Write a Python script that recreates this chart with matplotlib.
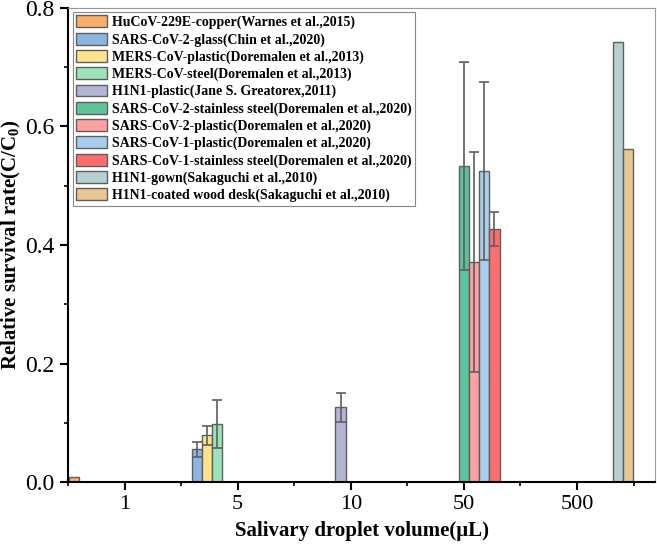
import matplotlib
matplotlib.use('Agg')
import matplotlib.pyplot as plt
from matplotlib.ticker import MultipleLocator, FormatStrFormatter

# fonte parecida com Times (Origin)
plt.rcParams['font.family'] = ['Liberation Serif', 'DejaVu Serif']
plt.rcParams['mathtext.fontset'] = 'custom'
plt.rcParams['mathtext.rm'] = 'Liberation Serif'
plt.rcParams['mathtext.bf'] = 'Liberation Serif:bold'

# dados
volumes = ['1', '5', '10', '50', '500']
series = [
    'HuCoV-229E-copper(Warnes et al.,2015)',
    'SARS-CoV-2-glass(Chin et al.,2020)',
    'MERS-CoV-plastic(Doremalen et al.,2013)',
    'MERS-CoV-steel(Doremalen et al.,2013)',
    'H1N1-plastic(Jane S. Greatorex,2011)',
    'SARS-CoV-2-stainless steel(Doremalen et al.,2020)',
    'SARS-CoV-2-plastic(Doremalen et al.,2020)',
    'SARS-CoV-1-plastic(Doremalen et al.,2020)',
    'SARS-CoV-1-stainless steel(Doremalen et al.,2020)',
    'H1N1-gown(Sakaguchi et al.,2010)',
    'H1N1-coated wood desk(Sakaguchi et al.,2010)',
]
series_volume = ['1', '5', '5', '5', '10', '50', '50', '50', '50', '500', '500']
survival = [0.008, 0.055, 0.079, 0.098, 0.126, 0.533, 0.371, 0.525, 0.427, 0.743, 0.562]
survival_err = [0, 0.012, 0.016, 0.041, 0.025, 0.176, 0.186, 0.150, 0.028, 0, 0]
colors = ['#FBAE68', '#8DB4E2', '#FFE38A', '#9BE3B9', '#B4B4D4', '#5DC39A',
          '#FFA0A2', '#A9CDEA', '#FF6D70', '#B5D0CE', '#E8C593']

bar_w = 0.09
n = len(series)

fig = plt.figure(figsize=(6.57, 5.47), dpi=100)
ax = fig.add_axes([0.1035, 0.1188, 0.8935, 0.8666])

for i, name in enumerate(series):
    # cada serie ocupa uma posicao fixa dentro do grupo (como no Origin)
    x = volumes.index(series_volume[i]) + 1 + (i - (n - 1) / 2) * bar_w
    ax.bar(x, survival[i], width=bar_w, color=colors[i], edgecolor='#5e5e5e',
           linewidth=1, label=name, zorder=2)
    if survival_err[i] > 0:
        ax.errorbar(x, survival[i], yerr=survival_err[i], fmt='none', ecolor='#5e5e5e',
                    elinewidth=1.2, capsize=3.6, capthick=1.2, zorder=3)

ax.set_xlim(0.5, 5.69)
ax.set_ylim(0, 0.8)
ax.set_xticks(range(1, len(volumes) + 1))
ax.set_xticklabels(volumes)
ax.xaxis.set_minor_locator(MultipleLocator(0.5))
ax.yaxis.set_major_locator(MultipleLocator(0.2))
ax.yaxis.set_minor_locator(MultipleLocator(0.1))
ax.yaxis.set_major_formatter(FormatStrFormatter('%.1f'))

for s in ['left', 'bottom']:
    ax.spines[s].set_linewidth(1.5)
    ax.spines[s].set_color('black')
for s in ['top', 'right']:
    ax.spines[s].set_linewidth(0.8)
    ax.spines[s].set_color('#999999')

ax.tick_params(which='major', direction='out', length=6, width=1.5, labelsize=16)
ax.tick_params(axis='y', which='major', labelsize=17, pad=4)
ax.tick_params(which='minor', direction='out', length=3, width=1.2)

ax.set_xlabel('Salivary droplet volume(μL)', fontsize=15, fontweight='bold', labelpad=5)
ax.set_ylabel('Relative survival rate(C/C$_\\mathbf{0}$)', fontsize=15, fontweight='bold')
ax.yaxis.set_label_coords(-0.076, 0.5)  # posicao do rotulo do eixo Y

leg = ax.legend(loc='upper left', bbox_to_anchor=(0.0085, 0.9916), borderaxespad=0,
                prop={'weight': 'bold', 'size': 10}, fancybox=False, edgecolor='#888888',
                framealpha=1, handlelength=2.2, handleheight=0.95, handletextpad=0.35,
                labelspacing=0.24, borderpad=0.25)
leg.get_frame().set_linewidth(0.8)

plt.savefig('out.png', dpi=100)
